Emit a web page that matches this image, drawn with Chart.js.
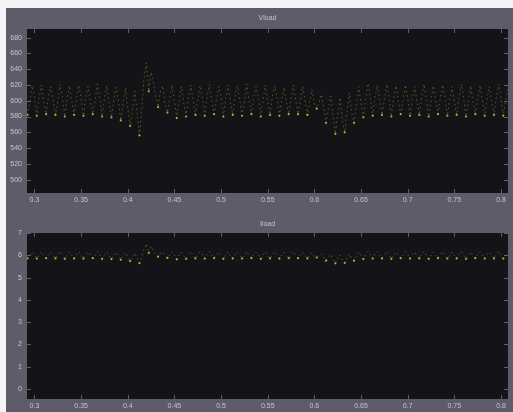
<!DOCTYPE html>
<html>
<head>
<meta charset="utf-8">
<script src="https://cdn.jsdelivr.net/npm/chart.js@4.4.1/dist/chart.umd.min.js"></script>
<style>
  html, body { margin: 0; padding: 0; background: #f4f4f6; }
  #frame { position: absolute; left: 6px; top: 8px; width: 507px; height: 404px; background: #5d5c68; }
  .box { position: absolute; left: 0; width: 513px; height: 206px; }
  #top { top: 0; }
  #bot { top: 206px; }
</style>
</head>
<body>
<div id="frame"></div>
<div class="box" id="top"><canvas id="vChart" width="513" height="206"></canvas></div>
<div class="box" id="bot"><canvas id="iChart" width="513" height="206"></canvas></div>
<script>
// sampling of the scope trace: 4 samples per 10 ms ripple period
const T0 = 0.2925;
const DT = 0.0025;

const xTicks = [0.3, 0.35, 0.4, 0.45, 0.5, 0.55, 0.6, 0.65, 0.7, 0.75, 0.8];
const xLabels = ["0.3", "0.35", "0.4", "0.45", "0.5", "0.55", "0.6", "0.65", "0.7", "0.75", "0.8"];
const vTicks = [500, 520, 540, 560, 580, 600, 620, 640, 660, 680];
const iTicks = [0, 1, 2, 3, 4, 5, 6, 7];

// Vload, one row per ripple period: low, rising, high, falling
const vload = [
  582, 600, 619, 604,
  581, 603, 620, 598,
  583, 606, 618, 601,
  582, 599, 621, 605,
  580, 604, 619, 600,
  582, 602, 620, 603,
  581, 605, 618, 599,
  583, 600, 621, 604,
  580, 603, 619, 598,
  579, 601, 617, 600,
  575, 596, 616, 590,
  568, 588, 612, 585,
  556, 590, 630, 648,
  612, 636, 622, 605,
  592, 612, 619, 596,
  585, 603, 620, 600,
  578, 602, 618, 597,
  580, 604, 620, 601,
  582, 600, 619, 603,
  581, 605, 621, 599,
  583, 601, 618, 604,
  580, 603, 620, 598,
  582, 606, 619, 602,
  581, 600, 621, 600,
  583, 604, 618, 603,
  580, 602, 620, 599,
  582, 605, 619, 604,
  581, 601, 617, 598,
  583, 603, 620, 601,
  583, 602, 618, 600,
  582, 600, 614, 596,
  590, 598, 608, 592,
  572, 590, 606, 582,
  558, 583, 604, 575,
  560, 588, 610, 585,
  572, 596, 618, 597,
  579, 602, 622, 603,
  581, 604, 620, 600,
  582, 601, 621, 604,
  580, 605, 619, 599,
  583, 600, 620, 603,
  581, 603, 618, 598,
  582, 606, 621, 602,
  580, 601, 619, 600,
  583, 604, 620, 604,
  581, 602, 618, 599,
  582, 605, 621, 603,
  580, 600, 619, 598,
  583, 603, 620, 601,
  581, 602, 618, 600,
  582, 604, 621, 603,
  581, 601, 619, 600,
  582, 603, 620, 602
];

// Iload, same sampling
const iload = [
  5.86, 6.02, 6.15, 6.04,
  5.85, 6.03, 6.16, 5.99,
  5.87, 6.05, 6.14, 6.01,
  5.86, 5.99, 6.17, 6.04,
  5.84, 6.04, 6.15, 6.00,
  5.86, 6.02, 6.16, 6.03,
  5.85, 6.05, 6.14, 5.99,
  5.87, 6.00, 6.17, 6.04,
  5.84, 6.03, 6.15, 5.98,
  5.83, 6.01, 6.13, 6.00,
  5.80, 5.97, 6.12, 5.92,
  5.74, 5.90, 6.10, 5.88,
  5.65, 5.92, 6.30, 6.52,
  6.10, 6.40, 6.20, 6.06,
  5.94, 6.10, 6.15, 5.97,
  5.88, 6.03, 6.16, 6.00,
  5.82, 6.02, 6.14, 5.98,
  5.84, 6.04, 6.16, 6.01,
  5.86, 6.00, 6.15, 6.03,
  5.85, 6.05, 6.17, 5.99,
  5.87, 6.01, 6.14, 6.04,
  5.84, 6.03, 6.16, 5.98,
  5.86, 6.05, 6.15, 6.02,
  5.85, 6.00, 6.17, 6.00,
  5.87, 6.04, 6.14, 6.03,
  5.84, 6.02, 6.16, 5.99,
  5.86, 6.05, 6.15, 6.04,
  5.85, 6.01, 6.13, 5.98,
  5.87, 6.03, 6.16, 6.01,
  5.87, 6.02, 6.14, 6.00,
  5.86, 6.00, 6.11, 5.96,
  5.90, 5.98, 6.06, 5.92,
  5.76, 5.91, 6.04, 5.84,
  5.64, 5.86, 6.02, 5.79,
  5.66, 5.89, 6.07, 5.86,
  5.76, 5.96, 6.14, 5.98,
  5.83, 6.02, 6.18, 6.03,
  5.85, 6.04, 6.16, 6.00,
  5.86, 6.01, 6.17, 6.04,
  5.84, 6.05, 6.15, 5.99,
  5.87, 6.00, 6.16, 6.03,
  5.85, 6.03, 6.14, 5.98,
  5.86, 6.05, 6.17, 6.02,
  5.84, 6.01, 6.15, 6.00,
  5.87, 6.04, 6.16, 6.04,
  5.85, 6.02, 6.14, 5.99,
  5.86, 6.05, 6.17, 6.03,
  5.84, 6.00, 6.15, 5.98,
  5.87, 6.03, 6.16, 6.01,
  5.85, 6.02, 6.14, 6.00,
  5.86, 6.04, 6.17, 6.03,
  5.85, 6.01, 6.15, 6.00,
  5.86, 6.03, 6.16, 6.02
];

const TEXT = "#c4c3cf";
const FONT = { family: "Liberation Sans", size: 7 };

function toPoints(values) {
  return values.map((y, i) => ({ x: T0 + i * DT, y }));
}

// black scope screen, inner tick marks and panel title
const scopePlugin = {
  id: "scope",
  beforeDraw(chart) {
    const { ctx, chartArea: a } = chart;
    ctx.save();
    ctx.fillStyle = "#141317";
    ctx.fillRect(a.left, a.top, a.right - a.left, a.bottom - a.top);
    ctx.restore();
  },
  afterDraw(chart, args, opts) {
    const { ctx, chartArea: a, scales } = chart;
    ctx.save();
    ctx.strokeStyle = "rgba(170,170,180,0.5)";
    ctx.lineWidth = 1;
    ctx.beginPath();
    for (const v of xTicks) {
      const px = Math.round(scales.x.getPixelForValue(v)) + 0.5;
      ctx.moveTo(px, a.top); ctx.lineTo(px, a.top + 4);
      ctx.moveTo(px, a.bottom); ctx.lineTo(px, a.bottom - 4);
    }
    for (const v of opts.yTicks) {
      const py = Math.round(scales.y.getPixelForValue(v)) + 0.5;
      ctx.moveTo(a.left, py); ctx.lineTo(a.left + 4, py);
      ctx.moveTo(a.right, py); ctx.lineTo(a.right - 4, py);
    }
    ctx.stroke();
    ctx.fillStyle = TEXT;
    ctx.font = "7px 'Liberation Sans'";
    ctx.textAlign = "center";
    ctx.textBaseline = "middle";
    ctx.fillText(opts.title, (a.left + a.right) / 2, opts.titleY);
    ctx.restore();
  }
};

function makeScope(id, values, yMin, yMax, yTicks, title, padTop, titleY) {
  return new Chart(document.getElementById(id), {
    type: "line",
    data: {
      datasets: [{
        data: toPoints(values),
        borderColor: "rgba(190,190,40,0.42)",
        borderWidth: 1,
        borderDash: [1.5, 3],
        pointRadius: ctx => (ctx.dataIndex % 4 === 0 ? 1.1 : 0),
        pointBackgroundColor: "rgba(215,215,50,0.8)",
        pointBorderWidth: 0,
        tension: 0
      }]
    },
    options: {
      responsive: false,
      animation: false,
      layout: { padding: { top: padTop, right: 5, left: 0, bottom: 0 } },
      plugins: {
        legend: { display: false },
        tooltip: { enabled: false },
        scope: { yTicks, title, titleY }
      },
      scales: {
        x: {
          type: "linear",
          min: 0.292,
          max: 0.8075,
          afterBuildTicks: s => { s.ticks = xTicks.map(v => ({ value: v })); },
          afterFit: s => { s.height = 13; },
          grid: { display: false, drawTicks: false },
          border: { display: false },
          ticks: {
            color: TEXT, font: FONT, padding: 3, maxRotation: 0, autoSkip: false,
            callback: v => xLabels[xTicks.indexOf(v)]
          }
        },
        y: {
          min: yMin,
          max: yMax,
          afterBuildTicks: s => { s.ticks = yTicks.map(v => ({ value: v })); },
          afterFit: s => { s.width = 27; },
          grid: { display: false, drawTicks: false },
          border: { display: false },
          ticks: { color: TEXT, font: FONT, padding: 5 }
        }
      }
    },
    plugins: [scopePlugin]
  });
}

makeScope("vChart", vload, 483, 691, vTicks, "Vload", 29, 18);
makeScope("iChart", iload, -0.45, 7, iTicks, "Iload", 27, 18);
</script>
</body>
</html>
